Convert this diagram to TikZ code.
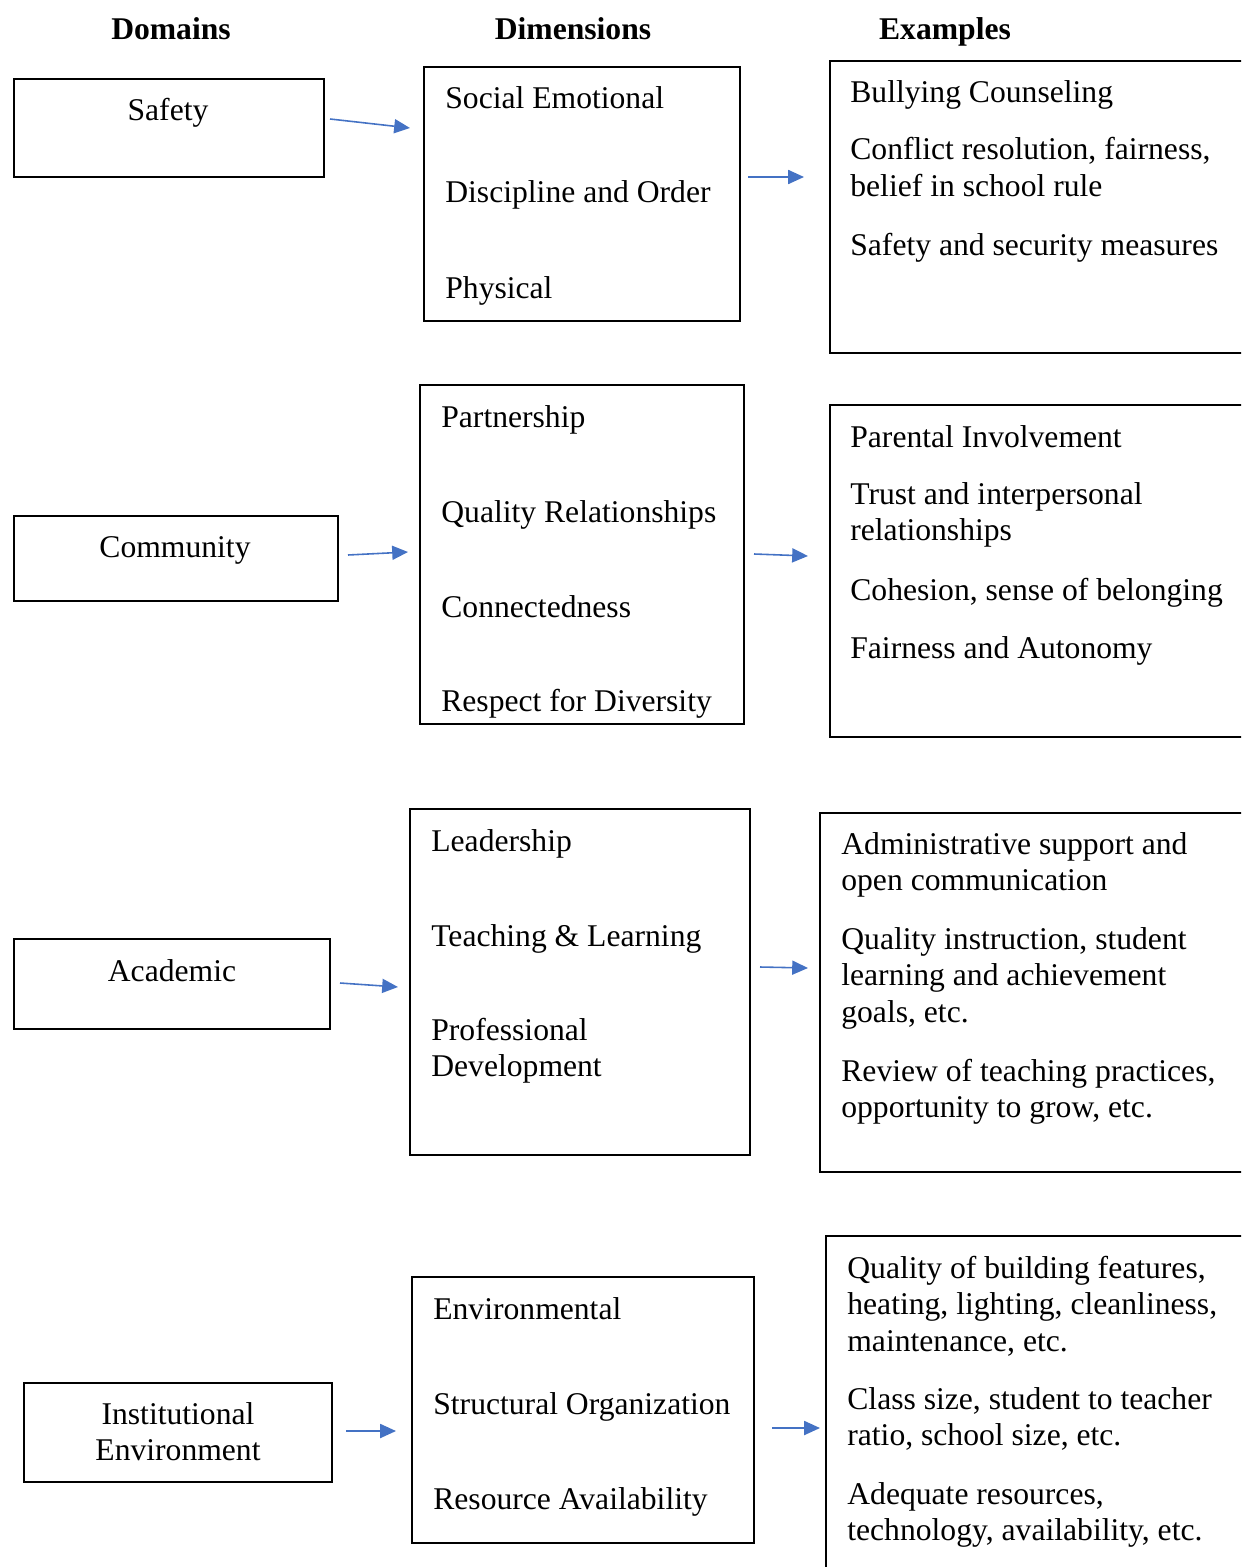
\documentclass[tikz,border=0pt]{standalone}
\usepackage{fontspec}
\setmainfont{Liberation Serif}
\usetikzlibrary{arrows.meta}
\definecolor{arrowblue}{HTML}{4472C4}
\newcommand\linesl[1]{\begin{tabular}[t]{@{}l@{}}#1\end{tabular}}
\newcommand\linesc[1]{\begin{tabular}[t]{@{}c@{}}#1\end{tabular}}

\begin{document}
\begin{tikzpicture}[x=0.02cm,y=-0.02cm,
    box/.style={line width=1.1pt},
    arr/.style={arrowblue,line width=0.9pt,-{Triangle[length=9pt,width=8pt]}},
    txt/.style={anchor=base west,inner sep=0pt,font=\fontsize{18}{21}\selectfont},
    dom/.style={anchor=base,inner sep=0pt,font=\fontsize{18}{21}\selectfont},
    head/.style={anchor=base,inner sep=0pt,font=\fontsize{18}{21}\selectfont\bfseries}]
    \useasboundingbox (0,0) rectangle (1241,1567);
    \clip (0,0) rectangle (1241,1567);

    \node[head] (hdom) at (171,40) {Domains};
    \node[head] (hdim) at (573,40) {Dimensions};
    \node[head] (hex) at (945,40) {Examples};

    % safety
    \draw[box] (14,79) rectangle (324,177);
    \draw[box] (424,67) rectangle (740,321);
    \draw[box] (1260,61) -- (830,61) -- (830,353) -- (1260,353);
    \node[dom] (safety) at (168,121) {Safety};
    \node[txt] (se) at (445,109) {Social Emotional};
    \node[txt] (dis) at (445,203) {Discipline and Order};
    \node[txt] (phy) at (445,299) {Physical};
    \node[txt] (bul) at (850,103) {Bullying Counseling};
    \node[txt] (con) at (850,160) {\linesl{Conflict resolution, fairness,\\belief in school rule}};
    \node[txt] (sec) at (850,256) {Safety and security measures};
    \coordinate (a1) at (330,119);
    \coordinate (b1) at (410,128);
    \coordinate (c1) at (748,177);
    \coordinate (d1) at (804,177);
    \draw[arr] (a1) -- (b1);
    \draw[arr] (c1) -- (d1);

    % community
    \draw[box] (14,516) rectangle (338,601);
    \draw[box] (420,385) rectangle (744,724);
    \draw[box] (1260,405) -- (830,405) -- (830,737) -- (1260,737);
    \node[dom] (comm) at (175,557) {Community};
    \node[txt] (par) at (441,427) {Partnership};
    \node[txt] (qr) at (441,522) {Quality Relationships};
    \node[txt] (cnn) at (441,617) {Connectedness};
    \node[txt] (div) at (441,711) {Respect for Diversity};
    \node[txt] (pin) at (850,447) {Parental Involvement};
    \node[txt] (tru) at (850,504) {\linesl{Trust and interpersonal\\relationships}};
    \node[txt] (coh) at (850,600) {Cohesion, sense of belonging};
    \node[txt] (fai) at (850,658) {Fairness and Autonomy};
    \coordinate (a2) at (348,555);
    \coordinate (b2) at (408,552);
    \coordinate (c2) at (754,554);
    \coordinate (d2) at (808,556);
    \draw[arr] (a2) -- (b2);
    \draw[arr] (c2) -- (d2);

    % academic
    \draw[box] (14,939) rectangle (330,1029);
    \draw[box] (410,809) rectangle (750,1155);
    \draw[box] (1260,813) -- (820,813) -- (820,1172) -- (1260,1172);
    \node[dom] (acad) at (172,981) {Academic};
    \node[txt] (lea) at (431,851) {Leadership};
    \node[txt] (tea) at (431,946) {Teaching \& Learning};
    \node[txt] (pro) at (431,1040) {\linesl{Professional\\Development}};
    \node[txt] (adm) at (841,854) {\linesl{Administrative support and\\open communication}};
    \node[txt] (qin) at (841,949) {\linesl{Quality instruction, student\\learning and achievement\\goals, etc.}};
    \node[txt] (rev) at (841,1081) {\linesl{Review of teaching practices,\\opportunity to grow, etc.}};
    \coordinate (a3) at (340,983);
    \coordinate (b3) at (398,987);
    \coordinate (c3) at (760,967);
    \coordinate (d3) at (808,968);
    \draw[arr] (a3) -- (b3);
    \draw[arr] (c3) -- (d3);

    % institutional environment
    \draw[box] (24,1383) rectangle (332,1482);
    \draw[box] (412,1277) rectangle (754,1543);
    \draw[box] (1260,1236) -- (826,1236) -- (826,1600);
    \node[dom] (inst) at (178,1424) {\linesc{Institutional\\Environment}};
    \node[txt] (env) at (433,1319) {Environmental};
    \node[txt] (str) at (433,1414) {Structural Organization};
    \node[txt] (res) at (433,1509) {Resource Availability};
    \node[txt] (qbf) at (847,1278) {\linesl{Quality of building features,\\heating, lighting, cleanliness,\\maintenance, etc.}};
    \node[txt] (cls) at (847,1409) {\linesl{Class size, student to teacher\\ratio, school size, etc.}};
    \node[txt] (ade) at (847,1504) {\linesl{Adequate resources,\\technology, availability, etc.}};
    \coordinate (a4) at (346,1431);
    \coordinate (b4) at (396,1431);
    \coordinate (c4) at (772,1428);
    \coordinate (d4) at (820,1428);
    \draw[arr] (a4) -- (b4);
    \draw[arr] (c4) -- (d4);
\end{tikzpicture}
\end{document}
